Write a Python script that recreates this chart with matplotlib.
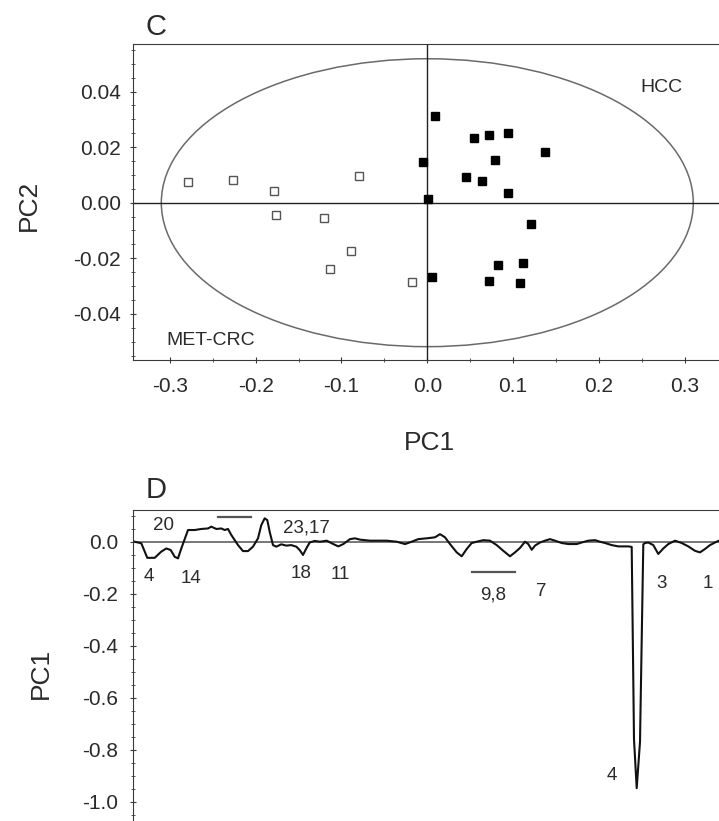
import matplotlib.pyplot as plt
from matplotlib.patches import Ellipse
from matplotlib.ticker import MultipleLocator
import numpy as np

plt.rcParams['font.family'] = ['Liberation Sans', 'DejaVu Sans']

# Panel C: PCA scores (PC1, PC2)
met_pc1 = [-0.2785, -0.2268, -0.1789, -0.1766, -0.1202, -0.0801, -0.0887, -0.1132, -0.0179]
met_pc2 = [0.0073, 0.0082, 0.0043, -0.0045, -0.0056, 0.0096, -0.0174, -0.0237, -0.0286]
hcc_pc1 = [0.0085, 0.0548, 0.0720, 0.0937, 0.1369, -0.0055, 0.0793, 0.0451, 0.0638,
           0.0937, 0.0012, 0.1214, 0.0825, 0.1120, 0.0050, 0.0720, 0.1082]
hcc_pc2 = [0.0313, 0.0233, 0.0245, 0.0250, 0.0182, 0.0146, 0.0154, 0.0092, 0.0078,
           0.0035, 0.0012, -0.0077, -0.0225, -0.0218, -0.0268, -0.0283, -0.0290]
ellipse_a = 0.31
ellipse_b = 0.0518

# Panel D: PC1 loadings along the variable index
var_idx = [1.7, 8.3, 14.3, 21.7, 28.3, 33.3, 37.7, 41.7, 45, 48.3, 55, 61.7, 68.3, 75,
           78.3, 83.3, 88.3, 91.7, 95, 98.3, 105, 110, 115, 120, 125, 128.3, 131.7,
           134.3, 136.7, 140, 143.3, 148.3, 153.3, 158.3, 163.3, 166.7, 170, 173.3,
           176.7, 181.7, 187, 193.7, 200.3, 205.3, 210.3, 217, 222, 227, 237, 253.7,
           263.7, 272, 278.7, 285.3, 293.7, 302, 307, 312, 317, 323.7, 328.7, 333.7,
           338.7, 343.7, 350.3, 357, 363.7, 370.3, 377, 382, 387, 392, 395.3, 398.7,
           402, 407, 412, 417, 422, 428.7, 435.3, 443.7, 448.7, 455.3, 462, 467, 472,
           478.7, 485.3, 495.3, 498.7, 501, 503.7, 507, 510.3, 512, 515.3, 520.3,
           525.3, 530.3, 535.3, 542, 548.7, 555.3, 562, 567, 572, 577, 582, 586]
loading = [0, -0.006, -0.062, -0.062, -0.038, -0.026, -0.032, -0.058, -0.064, -0.026,
           0.045, 0.045, 0.049, 0.051, 0.058, 0.049, 0.051, 0.045, 0.049, 0.026, -0.013,
           -0.036, -0.036, -0.019, 0.013, 0.064, 0.090, 0.083, 0.038, -0.013, -0.019,
           -0.010, -0.015, -0.013, -0.019, -0.032, -0.051, -0.026, -0.003, 0.003, 0,
           0.004, -0.009, -0.018, -0.009, 0.010, 0.013, 0.008, 0.004, 0.004, 0, -0.009,
           0, 0.010, 0.013, 0.017, 0.029, 0.017, -0.009, -0.041, -0.056, -0.028, -0.005,
           0, 0.006, 0.004, -0.013, -0.035, -0.056, -0.041, -0.024, 0, -0.009, -0.031,
           -0.015, -0.003, 0.004, 0.010, 0.004, -0.005, -0.009, -0.009, -0.003, 0.004,
           0.006, 0, -0.005, -0.013, -0.018, -0.018, -0.02, -0.76, -0.948, -0.77, -0.01,
           -0.005, -0.003, -0.013, -0.047, -0.026, -0.009, 0.004, -0.005, -0.018, -0.035,
           -0.041, -0.028, -0.013, -0.003, 0.004]
peak_labels = ['20', '23,17', '4', '14', '18', '11', '9,8', '7', '3', '1', '4']
peak_x = [30, 173.7, 16, 58.3, 168.3, 207, 360.3, 408.7, 528.7, 575.3, 478.7]
peak_y = [0.064, 0.052, -0.135, -0.141, -0.122, -0.125, -0.205, -0.192, -0.16, -0.16, -0.90]
bar_x0 = [85, 338.7]
bar_x1 = [118.3, 382]
bar_y = [0.096, -0.115]

W, H = 719, 821
fig = plt.figure(figsize=(W / 100, H / 100), dpi=100)
fig.patch.set_facecolor('white')

def px_box(left, top, right, bottom):
    return [left / W, 1 - bottom / H, (right - left) / W, (bottom - top) / H]

spine_col = '#3a3a3a'
text_col = '#2a2a2a'

# ---- panel C ----
ax1 = fig.add_axes(px_box(133, 44.3, 133 + 0.686 * 858, 360))
ax1.set_xlim(-0.343, 0.343)
ax1.set_ylim(-0.0566, 0.057)
ax1.axhline(0, color='#222222', lw=1.0)
ax1.axvline(0, color='#222222', lw=1.0)
ax1.add_patch(Ellipse((0, 0), 2 * ellipse_a, 2 * ellipse_b, fill=False,
                      edgecolor='#6a6a6a', lw=1.1))
ax1.plot(met_pc1, met_pc2, 's', ms=5.2, mfc='white', mec='#555555', mew=1.0)
ax1.plot(hcc_pc1, hcc_pc2, 's', ms=5.6, mfc='black', mec='black')
ax1.text(0.2726, 0.0416, 'HCC', fontsize=14, color=text_col, ha='center', va='center')
ax1.text(-0.2525, -0.0496, 'MET-CRC', fontsize=14, color=text_col, ha='center', va='center')
ax1.xaxis.set_major_locator(MultipleLocator(0.1))
ax1.xaxis.set_minor_locator(MultipleLocator(0.05))
ax1.yaxis.set_major_locator(MultipleLocator(0.02))
ax1.yaxis.set_minor_locator(MultipleLocator(0.005))
ax1.xaxis.set_major_formatter(plt.FuncFormatter(lambda v, p: f'{v:.1f}'))
ax1.yaxis.set_major_formatter(plt.FuncFormatter(lambda v, p: f'{v:.2f}'))
ax1.tick_params(which='both', direction='inout', colors=spine_col, labelcolor=text_col,
                labelsize=15)
ax1.tick_params(axis='x', which='major', length=5, pad=10)
ax1.tick_params(axis='y', which='major', length=5, pad=6)
ax1.tick_params(which='minor', length=3)
ax1.spines['right'].set_visible(False)
for s in ['left', 'top', 'bottom']:
    ax1.spines[s].set_color(spine_col)

fig.text(156 / W, 1 - 27 / H, 'C', fontsize=21, color=text_col, ha='center', va='center')
fig.text(29 / W, 1 - 205 / H, 'PC2', fontsize=19, color=text_col, rotation=90,
         ha='center', va='center')
fig.text(429 / W, 1 - 443 / H, 'PC1', fontsize=19, color=text_col, ha='center', va='center')

# ---- panel D ----
ax2 = fig.add_axes(px_box(133, 510, 733, 822.5))
ax2.set_xlim(0, 600)
ax2.set_ylim(-1.08, 0.122)
ax2.axhline(0, color='#777777', lw=1.4)
ax2.plot(var_idx, loading, color='#111111', lw=1.5)
for lab, x, y in zip(peak_labels, peak_x, peak_y):
    ax2.text(x, y, lab, fontsize=13.5, color=text_col, ha='center', va='center')
for x0, x1, y in zip(bar_x0, bar_x1, bar_y):
    ax2.plot([x0, x1], [y, y], color='#555555', lw=1.6)
ax2.set_xticks([])
ax2.yaxis.set_major_locator(MultipleLocator(0.2))
ax2.yaxis.set_minor_locator(MultipleLocator(0.05))
ax2.yaxis.set_major_formatter(plt.FuncFormatter(lambda v, p: f'{v:.1f}' if abs(v) > 1e-9 else '0.0'))
ax2.tick_params(which='both', direction='inout', colors=spine_col, labelcolor=text_col,
                labelsize=15)
ax2.tick_params(axis='y', which='major', length=5, pad=8)
ax2.tick_params(which='minor', length=3)
ax2.spines['right'].set_visible(False)
ax2.spines['bottom'].set_visible(False)
for s in ['left', 'top']:
    ax2.spines[s].set_color(spine_col)

fig.text(156 / W, 1 - 490 / H, 'D', fontsize=21, color=text_col, ha='center', va='center')
fig.text(41 / W, 1 - 673 / H, 'PC1', fontsize=19, color=text_col, rotation=90,
         ha='center', va='center')

fig.savefig('out.png', dpi=100, facecolor='white')
